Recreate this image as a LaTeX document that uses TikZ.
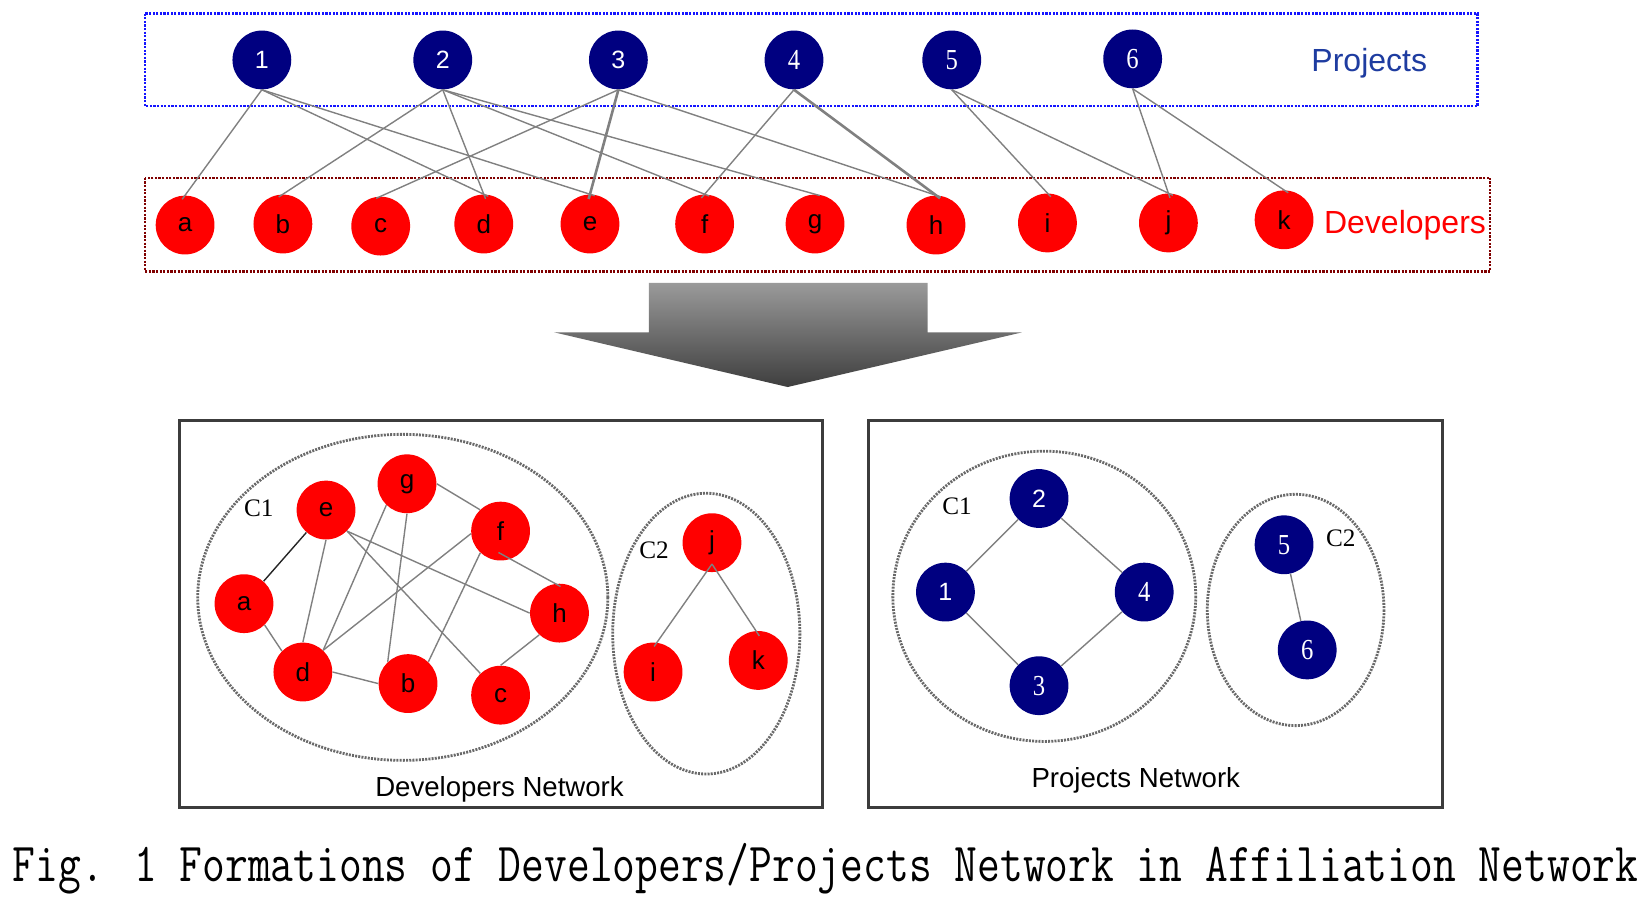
\documentclass[tikz,border=0pt]{standalone}
\usepackage{fontspec}
\setmainfont{Liberation Serif}
\newfontfamily\nsans{Liberation Sans}
\newfontfamily\nserif[FakeStretch=0.85]{Liberation Serif}
\newfontfamily\pserif{Liberation Serif}
\usetikzlibrary{calc}
\definecolor{projnavy}{RGB}{0,0,128}
\definecolor{boxblue}{RGB}{20,20,255}
\definecolor{boxred}{RGB}{128,0,0}
\definecolor{edgegray}{RGB}{128,128,128}
\definecolor{dotgray}{RGB}{105,105,105}
\definecolor{projtext}{RGB}{30,60,160}
\definecolor{panelgray}{RGB}{60,60,60}
\begin{document}
\begin{tikzpicture}[x=0.52583pt,y=-0.52583pt,
  projnode/.style={circle, fill=projnavy, minimum size=29.4pt, inner sep=0pt, text=white,
    font=\nserif\fontsize{14.5pt}{15pt}\selectfont},
  projsans/.style={projnode, font=\nsans\fontsize{12.5pt}{13pt}\selectfont},
  devnode/.style={circle, fill=red, minimum size=29.4pt, inner sep=0pt, text=black,
    font=\nsans\fontsize{13pt}{14pt}\selectfont},
  edgeline/.style={draw=edgegray, line width=0.7pt},
  thickedge/.style={draw=edgegray, line width=1.3pt},
  topedge/.style={shorten >=-2.5pt},
  dotframe/.style={line width=1.2pt, dash pattern=on 1.1pt off 0.7pt},
  cluster/.style={draw=dotgray, line width=1.4pt, dash pattern=on 1pt off 0.6pt},
  panel/.style={draw=panelgray, line width=1.6pt},
  clabel/.style={font=\pserif\fontsize{12.6pt}{13pt}\selectfont, anchor=base},
  title/.style={font=\nsans\fontsize{16pt}{17pt}\selectfont, anchor=base},
  netlabel/.style={font=\nsans\fontsize{13.8pt}{14pt}\selectfont, anchor=base}]
\useasboundingbox (0,0) rectangle (1568,855);

% ---------- top frames ----------
\draw[dotframe, draw=boxblue] (138,13) rectangle (1405,101);
\draw[dotframe, draw=boxred] (138,169) rectangle (1417,258);

% project nodes
\node[projsans] (p1) at (249,57) {1};
\node[projsans] (p2) at (421,57) {2};
\node[projsans] (p3) at (588,57) {3};
\node[projnode] (p4) at (755,57) {4};
\node[projnode] (p5) at (905,57) {5};
\node[projnode] (p6) at (1077,56) {6};
\node[title, text=projtext] (projtitle) at (1302,68) {Projects};

% developer nodes
\node[devnode] (a) at (176,214) {a};
\node[devnode] (b) at (269,213) {b};
\node[devnode] (c) at (362,215) {c};
\node[devnode] (d) at (460,213) {d};
\node[devnode] (e) at (561,213) {e};
\node[devnode] (f) at (670,213) {f};
\node[devnode] (g) at (775,213) {g};
\node[devnode] (h) at (890,214) {h};
\node[devnode] (i) at (996,212) {i};
\node[devnode] (j) at (1111,212) {j};
\node[devnode] (k) at (1221,209) {k};
\node[title, text=red] (devtitle) at (1336,222) {Developers};

% affiliation edges
\foreach \p/\q in {1/a,1/d,1/e,2/b,2/d,2/f,2/g,3/c,3/h,4/f,5/i,5/j,6/j,6/k}
  \draw[edgeline, topedge] (p\p.south) -- (\q.north);
\draw[thickedge, topedge] (p3.south) -- (e.north);
\draw[thickedge, topedge] (p4.south) -- (h.north);

% ---------- arrow ----------
\shade[top color={rgb,255:red,154;green,154;blue,154}, bottom color={rgb,255:red,62;green,62;blue,62}]
  (617,269) -- (882,269) -- (882,316) -- (972,316) -- (749,368) -- (527,316) -- (617,316) -- cycle;

% ---------- developers network ----------
\draw[panel] (171,400) rectangle (782,768);
\draw[cluster] (383,568) ellipse [x radius=195, y radius=155];
\draw[cluster] (671.6,602.5) ellipse [x radius=89, y radius=133.5];
\node[clabel] (dc1) at (246,491) {C1};
\node[clabel] (dc2) at (622,531) {C2};

\node[devnode] (de) at (310,485) {e};
\node[devnode] (dg) at (387,460) {g};
\node[devnode] (df) at (476,505) {f};
\node[devnode] (da) at (232,574) {a};
\node[devnode] (dh) at (532,583) {h};
\node[devnode] (dd) at (288,639) {d};
\node[devnode] (db) at (388,650) {b};
\node[devnode] (dc) at (476,661) {c};
\node[devnode] (dj) at (677,516) {j};
\node[devnode] (di) at (621,639) {i};
\node[devnode] (dk) at (721,628) {k};

\draw[draw=black!85, line width=0.7pt] (de) -- (da);
\draw[edgeline] (de.south) -- (dd.north);
\draw[edgeline] (de.-45) -- (dh.west);
\draw[edgeline] (de.-45) -- (dc.133);
\draw[edgeline] (dg.226) -- (dd.47);
\draw[edgeline] (dg.south) -- (db.133);
\draw[edgeline] (dg.east) -- (df.134);
\draw[edgeline] (df.185) -- (dd.47);
\draw[edgeline] (df.227) -- (db.47);
\draw[edgeline] ($(df.south)+(-2,-8)$) -- ($(dh.north)+(1,3)$);
\draw[edgeline] (dh.227) -- (dc.north);
\draw[edgeline] (da.314) -- (dd.135);
\draw[edgeline] (dd.east) -- (db.west);
\draw[edgeline] ($(dj.south)+(0,-8)$) -- ($(di.north)+(1,4)$);
\draw[edgeline] ($(dj.south)+(0,-8)$) -- ($(dk.north)+(1,5)$);
\node[netlabel] (devnet) at (475,757) {Developers Network};

% ---------- projects network ----------
\draw[panel] (826,400) rectangle (1372,768);
\draw[cluster] (993,567) ellipse [x radius=144, y radius=138];
\draw[cluster] (1232,580) ellipse [x radius=84, y radius=110];
\node[clabel] (pc1) at (910,489) {C1};
\node[clabel] (pc2) at (1275,520) {C2};

\node[projsans] (q2) at (988,474) {2};
\node[projsans] (q1) at (899,563) {1};
\node[projnode] (q4) at (1088,563) {4};
\node[projnode] (q3) at (988,652) {3};
\node[projnode] (q5) at (1221,518) {5};
\node[projnode] (q6) at (1243,618) {6};
\foreach \u/\v in {q2/q1,q2/q4,q1/q3,q4/q3,q5/q6}
  \draw[edgeline] (\u) -- (\v);
\node[netlabel] (projnet) at (1080,749) {Projects Network};

% ---------- caption ----------
\node[anchor=base, inner sep=0pt] (caption) at (785,838)
  {\resizebox{812.9pt}{\height}{\ttfamily\fontsize{27.5pt}{30pt}\selectfont Fig. 1 Formations of Developers/Projects Network in Affiliation Network}};
\end{tikzpicture}
\end{document}
